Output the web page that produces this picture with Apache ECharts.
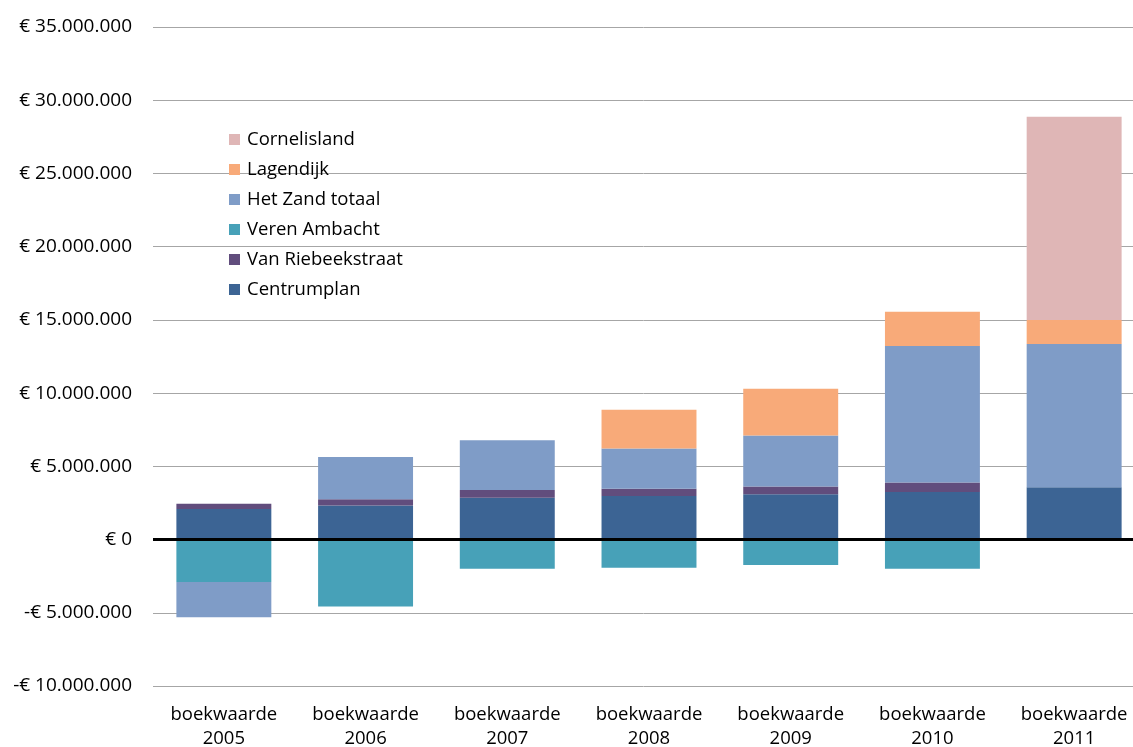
<!DOCTYPE html>
<html>
<head>
<meta charset="utf-8">
<script src="https://cdn.jsdelivr.net/npm/echarts@6/dist/echarts.min.js"></script>
<style>
  html, body { margin: 0; padding: 0; background: #fff; }
  #chart { width: 1133px; height: 747px; }
</style>
</head>
<body>
<div id="chart"></div>
<script>
// categorieen en waarden (euro)
var categories = ['boekwaarde\n2005', 'boekwaarde\n2006', 'boekwaarde\n2007', 'boekwaarde\n2008',
  'boekwaarde\n2009', 'boekwaarde\n2010', 'boekwaarde\n2011']

var centrumplan = [2080000, 2330000, 2850000, 2970000, 3100000, 3240000, 3580000]
var vanRiebeekstraat = [360000, 430000, 530000, 500000, 530000, 660000, 0]
var verenAmbacht = [-2900000, -4570000, -1990000, -1920000, -1730000, -1990000, 0]
var hetZand = [-2400000, 2880000, 3400000, 2740000, 3470000, 9320000, 9770000]
var lagendijk = [0, 0, 0, 2650000, 3190000, 2330000, 1640000]
var cornelisland = [0, 0, 0, 0, 0, 0, 13880000]

var legendOrder = ['Cornelisland', 'Lagendijk', 'Het Zand totaal', 'Veren Ambacht', 'Van Riebeekstraat', 'Centrumplan']

var font = 'Open Sans'

function euro (v) {
  var s = Math.abs(v).toString().replace(/\B(?=(\d{3})+(?!\d))/g, '.')
  return (v < 0 ? '-' : '') + '€ ' + s
}

function bar (name, data, color) {
  return {
    name: name,
    type: 'bar',
    stack: 'totaal',
    data: data,
    barCategoryGap: '33%',
    itemStyle: { color: color },
    emphasis: { disabled: true }
  }
}

var chart = echarts.init(document.getElementById('chart'))

var series = [
  bar('Centrumplan', centrumplan, '#3c6494'),
  bar('Van Riebeekstraat', vanRiebeekstraat, '#614d7d'),
  bar('Veren Ambacht', verenAmbacht, '#47a1b8'),
  bar('Het Zand totaal', hetZand, '#7f9cc7'),
  bar('Lagendijk', lagendijk, '#f8aa79'),
  bar('Cornelisland', cornelisland, '#dfb6b6')
]
// nul-lijn
series[0].markLine = {
  silent: true,
  symbol: ['none', 'none'],
  label: { show: false },
  lineStyle: { color: '#000', width: 3, type: 'solid' },
  data: [{ yAxis: 0 }]
}

chart.setOption({
  animation: false,
  textStyle: { fontFamily: font },
  grid: { left: 153, top: 27, width: 992, height: 659, outerBoundsMode: 'none' },
  legend: {
    data: legendOrder,
    orient: 'vertical',
    left: 224,
    top: 125,
    itemWidth: 11,
    itemHeight: 11,
    itemGap: 11,
    icon: 'rect',
    selectedMode: false,
    textStyle: { fontFamily: font, fontSize: 18.5, color: '#000', padding: [0, 0, 0, 2] }
  },
  xAxis: {
    type: 'category',
    data: categories,
    position: 'bottom',
    axisLine: { show: false },
    axisTick: { show: false },
    axisLabel: { fontFamily: font, fontSize: 18.5, color: '#000', lineHeight: 24, margin: 17 }
  },
  yAxis: {
    type: 'value',
    min: -10000000,
    max: 35000000,
    interval: 5000000,
    axisLine: { show: false },
    axisTick: { show: false },
    splitLine: { lineStyle: { color: '#a6a6a6', width: 1 } },
    axisLabel: { fontFamily: font, fontSize: 19, color: '#000', margin: 21, formatter: euro }
  },
  series: series
})
</script>
</body>
</html>
